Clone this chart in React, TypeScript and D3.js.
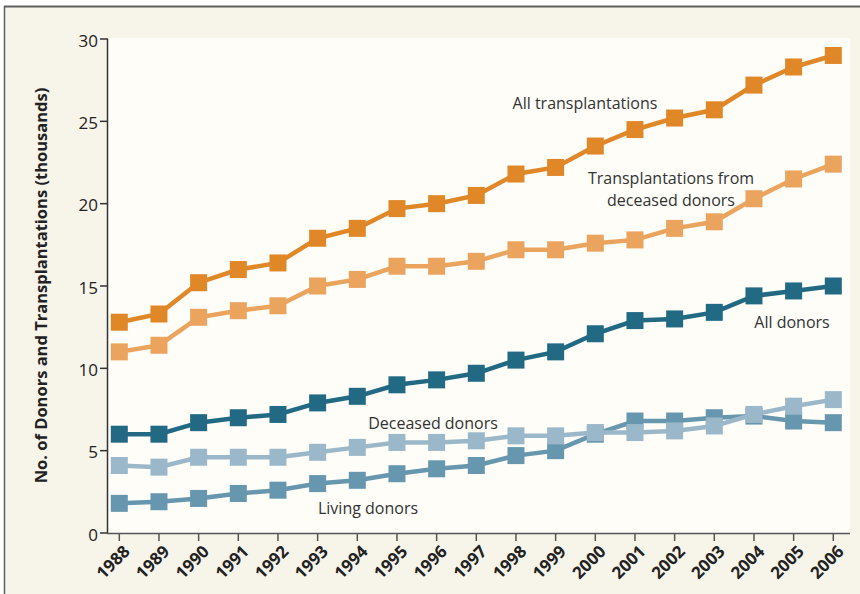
import React, { useRef, useEffect } from 'react';
import * as d3 from 'd3';

const years = [1988, 1989, 1990, 1991, 1992, 1993, 1994, 1995, 1996, 1997, 1998, 1999, 2000, 2001, 2002, 2003, 2004, 2005, 2006];
const allTransplants = [12.8, 13.3, 15.2, 16.0, 16.4, 17.9, 18.5, 19.7, 20.0, 20.5, 21.8, 22.2, 23.5, 24.5, 25.2, 25.7, 27.2, 28.3, 29.0];
const deceasedTransplants = [11.0, 11.4, 13.1, 13.5, 13.8, 15.0, 15.4, 16.2, 16.2, 16.5, 17.2, 17.2, 17.6, 17.8, 18.5, 18.9, 20.3, 21.5, 22.4];
const allDonors = [6.0, 6.0, 6.7, 7.0, 7.2, 7.9, 8.3, 9.0, 9.3, 9.7, 10.5, 11.0, 12.1, 12.9, 13.0, 13.4, 14.4, 14.7, 15.0];
const livingDonors = [1.8, 1.9, 2.1, 2.4, 2.6, 3.0, 3.2, 3.6, 3.9, 4.1, 4.7, 5.0, 6.0, 6.8, 6.8, 7.0, 7.1, 6.8, 6.7];
const deceasedDonors = [4.1, 4.0, 4.6, 4.6, 4.6, 4.9, 5.2, 5.5, 5.5, 5.6, 5.9, 5.9, 6.1, 6.1, 6.2, 6.5, 7.2, 7.7, 8.1];
const yTicks = [0, 5, 10, 15, 20, 25, 30];

const series = [
    { name: 'Living donors', values: livingDonors, color: '#6797AE' },
    { name: 'Deceased donors', values: deceasedDonors, color: '#9BB8CA' },
    { name: 'All donors', values: allDonors, color: '#226A84' },
    { name: 'Transplantations from deceased donors', values: deceasedTransplants, color: '#EBA45E' },
    { name: 'All transplantations', values: allTransplants, color: '#E08728' },
];

const labels = [
    { text: 'All transplantations', x: 585, y: 109 },
    { text: 'Transplantations from', x: 671, y: 184 },
    { text: 'deceased donors', x: 671, y: 206 },
    { text: 'All donors', x: 792, y: 328 },
    { text: 'Deceased donors', x: 433, y: 429 },
    { text: 'Living donors', x: 368, y: 514 },
];

const App = () => {
    const svgRef = useRef<SVGSVGElement>(null);

    useEffect(() => {
        drawChart();
    }, []);

    const drawChart = () => {
        const svg = d3.select(svgRef.current);
        svg.selectAll('*').remove();

        const width = 860;
        const height = 594;
        const left = 108, right = 850, top = 38, bottom = 533;
        const font = '"Open Sans", sans-serif';

        const x = d3.scaleLinear().domain([1988, 2006]).range([119.3, 833.3]);
        const y = d3.scaleLinear().domain([0, 30]).range([bottom, 39]);

        // backgrounds and frame
        svg.append('rect').attr('width', width).attr('height', height).attr('fill', '#ffffff');
        svg.append('rect').attr('x', 4).attr('y', 6).attr('width', width).attr('height', height)
            .attr('fill', '#F7F4EA');
        svg.append('line').attr('x1', 4).attr('x2', width).attr('y1', 6.5).attr('y2', 6.5)
            .attr('stroke', '#5f5f5f').attr('stroke-width', 2);
        svg.append('line').attr('x1', 4.5).attr('x2', 4.5).attr('y1', 6).attr('y2', height)
            .attr('stroke', '#5f5f5f').attr('stroke-width', 1.5);
        svg.append('rect').attr('x', left).attr('y', top).attr('width', right - left).attr('height', bottom - top)
            .attr('fill', '#FEFDF8');

        // y axis
        const yAxis = svg.append('g');
        yAxis.append('line').attr('x1', left - 0.5).attr('x2', left - 0.5).attr('y1', y(30)).attr('y2', bottom)
            .attr('stroke', '#333').attr('stroke-width', 1.5);
        yAxis.selectAll('.yt').data(yTicks).enter().append('line')
            .attr('x1', left - 8).attr('x2', left)
            .attr('y1', d => y(d)).attr('y2', d => y(d))
            .attr('stroke', '#333').attr('stroke-width', 1.5);
        yAxis.selectAll('.yl').data(yTicks).enter().append('text')
            .attr('x', left - 10).attr('y', d => y(d) + 1)
            .attr('text-anchor', 'end').attr('dominant-baseline', 'central')
            .style('font-family', font).style('font-size', '17px').attr('fill', '#222')
            .text(d => d);

        svg.append('text')
            .attr('transform', `translate(47,${(top + bottom) / 2}) rotate(-90)`)
            .attr('text-anchor', 'middle')
            .style('font-family', font).style('font-size', '16.5px').style('font-weight', 'bold')
            .attr('fill', '#222')
            .text('No. of Donors and Transplantations (thousands)');

        // x axis
        const xAxis = svg.append('g');
        xAxis.append('line').attr('x1', left - 1).attr('x2', right).attr('y1', bottom + 0.5).attr('y2', bottom + 0.5)
            .attr('stroke', '#555').attr('stroke-width', 1.5);
        xAxis.selectAll('.xt').data(years).enter().append('line')
            .attr('x1', d => x(d)).attr('x2', d => x(d))
            .attr('y1', bottom).attr('y2', bottom + 8)
            .attr('stroke', '#555').attr('stroke-width', 1.5);
        xAxis.selectAll('.xl').data(years).enter().append('text')
            .attr('transform', d => `translate(${x(d) + 7},${bottom + 15}) rotate(-45)`)
            .attr('text-anchor', 'end').attr('dominant-baseline', 'central')
            .style('font-family', font).style('font-size', '17px').style('font-weight', 'bold')
            .attr('fill', '#222')
            .text(d => d);

        // lines and markers
        const line = d3.line<number>().x((d, i) => x(years[i])).y(d => y(d));
        const size = 17;
        series.forEach(s => {
            const g = svg.append('g');
            g.append('path').attr('d', line(s.values))
                .attr('fill', 'none').attr('stroke', s.color).attr('stroke-width', 4.5);
            g.selectAll('rect').data(s.values).enter().append('rect')
                .attr('x', (d, i) => x(years[i]) - size / 2)
                .attr('y', d => y(d) - size / 2)
                .attr('width', size).attr('height', size)
                .attr('fill', s.color);
        });

        // series labels
        labels.forEach(l => {
            svg.append('text')
                .attr('x', l.x).attr('y', l.y)
                .attr('text-anchor', 'middle')
                .style('font-family', font).style('font-size', '16px').attr('fill', '#333')
                .text(l.text);
        });
    };

    return (
        <svg ref={svgRef} width={860} height={594} style={{ position: 'absolute', left: 0, top: 0 }}></svg>
    );
};

export default App;
